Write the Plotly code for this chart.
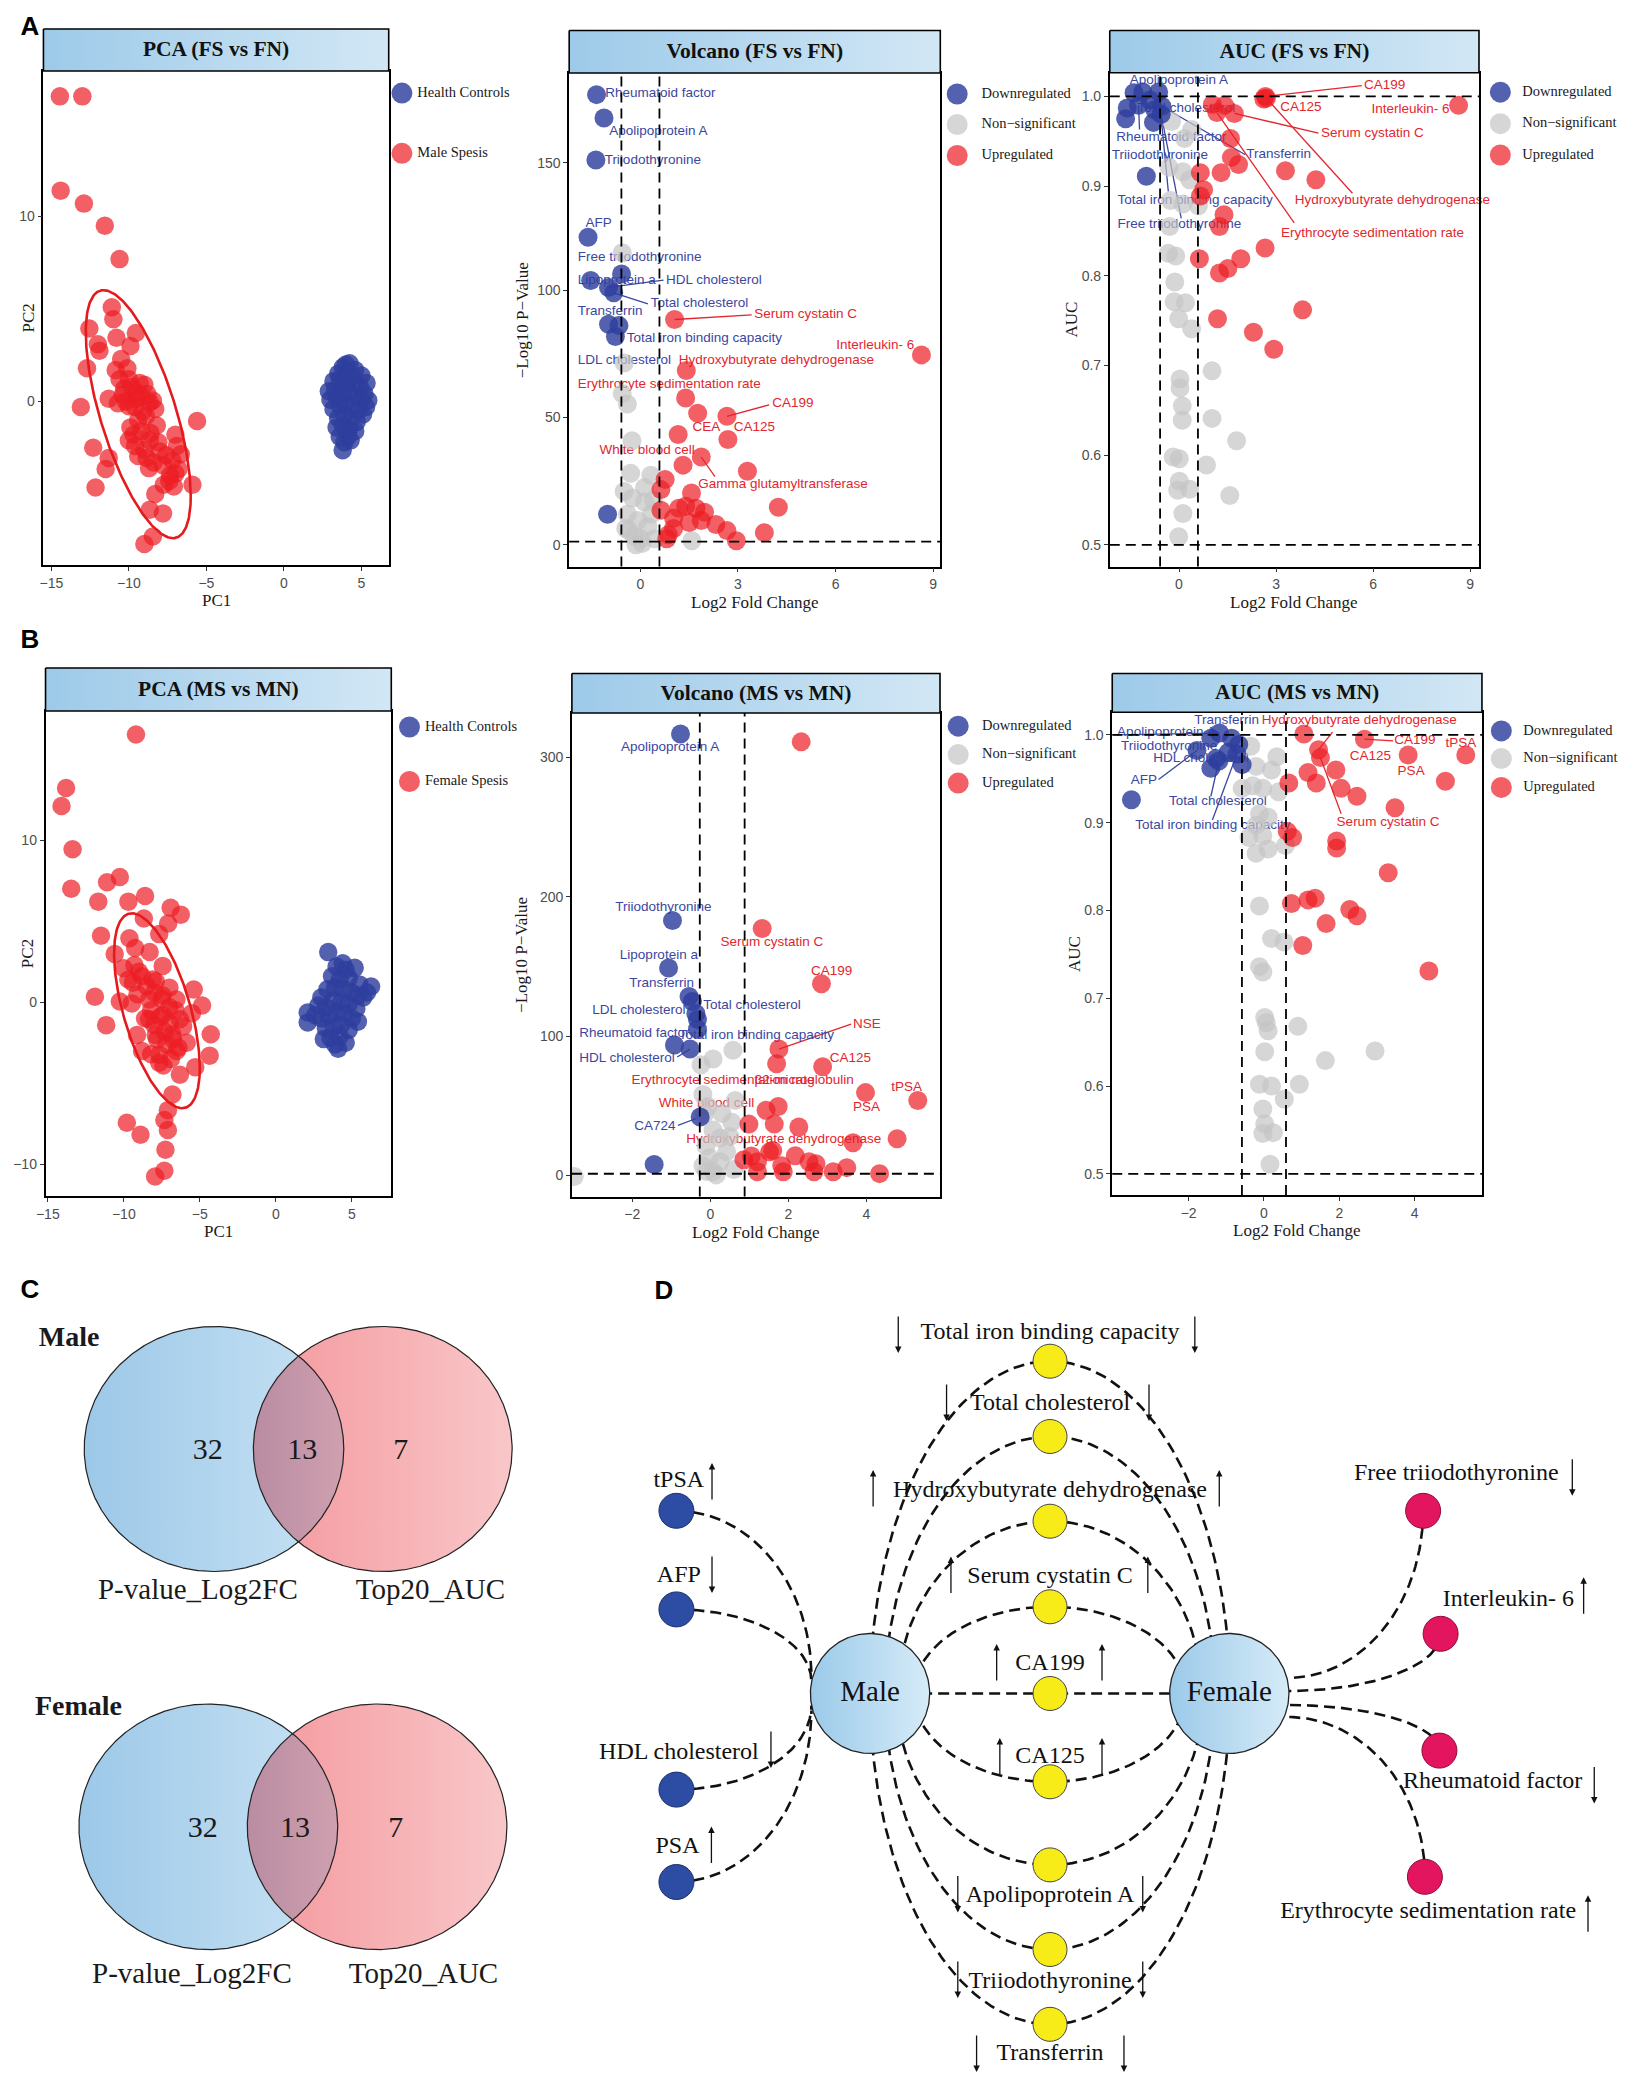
import numpy as np
import plotly.graph_objects as go

W, H = 1629, 2074
OFFX, OFFY = 13, 8  # page offset of the plot inside the html body
SERIF = "Liberation Serif"
SANS = "Liberation Sans"

C_DOWN = "rgba(46,62,158,0.82)"
C_UP = "rgba(236,28,36,0.70)"
C_NS = "rgba(196,196,196,0.70)"
T_DOWN = "#3A479F"
T_UP = "#E3262E"

# ===================== DATA =====================
# ---- PCA (FS vs FN) ----
pca_fs_sepsis_x = [-14.45,-13.0,-14.4,-12.9,-11.55,-10.6,-11.1,-11.0,-12.55,-9.55,
                   -10.8,-9.9,-12.0,-11.9,-12.7,-10.85,-10.6,-10.0,-9.0,-11.3,
                   -10.4,-9.55,-8.65,-8.45,-13.1,-10.0,-9.1,-8.2,-9.9,-5.6,
                   -10.0,-8.65,-7.0,-12.3,-6.9,-9.4,-8.85,-11.3,-6.65,-7.8,
                   -7.35,-6.8,-11.5,-5.9,-12.15,-7.75,-8.3,-8.65,-7.8,-8.45,
                   -9.0,-9.5,-9.8,-9.2,-10.2,-8.9,-9.4,-8.6,-9.7,-8.0,
                   -7.2,-7.6,-8.4,-9.0,-7.0,-7.4,-9.3,-10.3,-8.8,-9.6,
                   -10.7,-8.3,-9.2,-8.1,-9.6,-8.7,-7.1,-10.5,-10.1]
pca_fs_sepsis_y = [16.5,16.5,11.4,10.7,9.5,7.7,5.1,4.45,3.95,3.7,
                   3.45,3.0,3.1,2.75,1.8,1.7,1.2,1.2,0.9,0.15,
                   0.35,0.15,-0.05,0.05,-0.3,-0.25,-0.55,-1.3,-1.4,-1.05,
                   -2.1,-2.1,-1.8,-2.5,-2.4,-2.95,-3.05,-3.05,-2.85,-3.45,
                   -4.0,-3.65,-3.65,-4.5,-4.65,-4.5,-5.0,-5.85,-6.05,-7.3,
                   -7.7,0.5,0.8,0.3,0.0,-0.8,-1.0,-1.7,-1.8,-2.7,
                   -3.2,-2.9,-3.3,-2.6,-3.9,-4.3,1.0,0.7,0.4,-0.3,
                   -0.1,-0.4,-1.6,-2.2,-2.4,-3.6,-4.6,2.3,1.8]
pca_fs_hc_x = [4.23,3.8,3.5,4.0,4.6,5.0,5.33,3.2,2.9,3.3,3.7,4.1,4.5,4.9,5.44,5.2,3.0,3.4,3.8,4.2,
               4.6,5.0,5.3,3.2,3.6,4.0,4.4,4.8,5.1,3.5,3.9,4.3,4.7,3.4,3.8,4.2,4.6,3.6,4.12,3.9,
               4.3,3.79,4.0,4.4,3.6]
pca_fs_hc_y = [2.07,1.85,1.5,1.6,1.7,1.4,1.0,1.1,0.55,0.6,0.9,1.1,1.0,0.8,0.06,0.4,0.1,0.2,0.4,0.5,
               0.3,0.1,-0.3,-0.4,-0.2,-0.1,-0.3,-0.5,-0.7,-0.9,-0.7,-0.9,-1.1,-1.4,-1.3,-1.5,-1.6,-1.9,-1.9,-2.2,
               -2.1,-2.63,2.0,1.4,1.2]
# ellipse of the sepsis group: centre x, centre y, var x, var y, cov xy
pca_fs_ellipse = [-9.395, -0.685, 11.46, 44.96, -14.99]

# ---- PCA (MS vs MN) ----
pca_ms_sepsis_x = [-9.2,-13.8,-14.1,-13.37,-13.46,-10.26,-11.1,-11.68,-9.7,-8.6,
                   -6.92,-6.25,-8.68,-7.08,-11.5,-7.67,-9.63,-9.25,-10.6,-8.3,
                   -7.44,-10.0,-9.0,-9.7,-8.1,-7.0,-5.4,-11.9,-10.26,-9.47,
                   -8.34,-7.44,-6.54,-4.85,-5.52,-11.16,-8.34,-7.44,-6.31,-4.28,
                   -9.13,-7.9,-6.76,-5.86,-8.8,-7.67,-6.54,-4.35,-5.3,-6.31,
                   -7.67,-6.8,-7.1,-9.8,-7.33,-8.9,-7.1,-7.26,-7.33,-7.94,
                   -8.5,-8.0,-7.5,-7.0,-8.2,-7.6,-7.0,-8.0,-7.3,-6.8,
                   -7.8,-6.4,-7.2,-8.6,-9.1,-8.8,-9.4,-6.1,-6.6,-7.9,
                   -9.3,-6.9,-7.4,-8.2]
pca_ms_sepsis_y = [16.5,13.2,12.1,9.43,7.0,7.72,7.4,6.2,6.2,6.55,
                   5.82,5.4,5.16,4.85,4.1,4.2,3.95,3.34,2.97,3.1,
                   2.24,2.1,1.88,1.4,1.4,0.9,0.78,0.34,0.05,-0.07,
                   0.17,0.41,0.17,-0.2,-0.68,-1.41,-1.05,-0.8,-1.05,-1.97,
                   -2.02,-2.02,-2.27,-2.5,-3.0,-3.24,-3.0,-3.29,-4.0,-4.46,
                   -3.73,-5.68,-6.65,-7.43,-7.26,-8.16,-7.87,-9.09,-10.38,-10.74,
                   1.0,0.6,0.2,-0.3,-0.5,-0.9,-1.3,-1.4,-1.8,-2.0,
                   -2.3,-2.8,-2.6,-1.0,0.5,1.6,1.2,-1.5,-0.5,1.3,
                   2.3,-3.5,-3.9,-3.2]
pca_ms_hc_x = [3.45,2.1,2.1,6.27,4.1,3.16,5.75,5.19,
               4.0,4.6,3.7,4.2,4.8,5.5,3.0,3.4,3.9,4.5,5.0,5.4,2.8,3.3,3.8,4.3,4.8,5.3,
               3.0,3.5,4.0,4.5,5.0,5.4,3.3,3.8,4.3,4.8,3.6,4.2,4.6,3.9,2.6,4.4,6.0]
pca_ms_hc_y = [3.09,-0.63,-1.24,0.97,-2.87,-2.27,0.29,2.12,
               2.2,2.0,1.6,1.4,1.5,1.1,0.3,0.8,0.9,0.8,0.6,0.4,-0.2,-0.3,0.1,0.0,-0.1,-0.4,
               -1.0,-0.8,-0.6,-0.7,-1.0,-1.2,-1.6,-1.5,-1.4,-1.7,-2.2,-2.1,-2.5,-2.6,-0.8,2.4,0.6]
pca_ms_ellipse = [-7.82, -0.525, 7.95, 36.06, -9.91]

# ---- Volcano (FS vs FN) ----
vol_fs_down_x = [-1.35,-1.12,-1.37,-1.61,-1.53,-0.58,-0.98,-0.82,-0.98,-0.66,-0.77,-1.01]
vol_fs_down_y = [176.8,167.6,151.1,120.8,103.8,106.4,101.1,99.0,86.6,86.1,81.8,12.0]
vol_fs_down_names = ["Rheumatoid factor","Apolipoprotein A","Triiodothyronine","AFP","Lipoprotein a",
                     "Free triiodothyronine","HDL cholesterol","Total cholesterol","Transferrin",
                     "LDL cholesterol","Total iron binding capacity",""]
vol_fs_ns_x = [-0.56,-0.5,-0.56,-0.4,-0.26,-0.3,0.32,-0.24,0.13,-0.4,-0.08,0.23,-0.35,0.02,0.44,-0.14,
               1.58,-0.45,0.34,0.13,0.05,-0.2,0.4,-0.5]
vol_fs_ns_y = [114.7,71.4,59.4,55.3,40.9,28.1,27.3,18.4,16.8,12.0,9.6,7.2,5.6,2.4,2.4,0.0,
               1.6,6.4,12.0,22.5,0.5,3.5,17.5,21.0]
vol_fs_up_x = [1.05,8.64,1.41,1.39,1.76,2.66,2.69,1.16,1.87,1.31,
               3.29,0.76,0.63,1.57,4.24,0.63,1.18,1.39,1.71,1.97,
               1.02,1.5,1.87,2.32,2.66,1.02,0.86,3.81,2.95,0.81]
vol_fs_up_y = [88.5,74.6,68.5,57.7,51.7,50.5,41.4,43.3,34.5,31.3,
               28.9,25.7,21.7,20.4,14.8,13.6,14.4,15.2,14.4,12.8,
               10.4,8.8,9.6,8.0,5.6,6.4,4.0,4.8,1.6,2.4]
vol_fs_up_names = ["Serum cystatin C","Interleukin- 6","Hydroxybutyrate dehydrogenase",
                   "Erythrocyte sedimentation rate","CEA","CA199","CA125","White blood cell",
                   "Gamma glutamyltransferase"] + [""] * 21

# ---- AUC (FS vs FN) ----
auc_fs_down_x = [-1.39,-1.12,-0.63,-1.6,-1.65,-0.79,-1.01,-0.53,-0.9,-1.25,-0.75,-0.55]
auc_fs_down_y = [1.004,1.005,1.005,0.987,0.975,0.971,0.911,0.989,0.996,0.99,0.985,0.98]
auc_fs_down_names = ["","Apolipoprotein A","Total iron binding capacity","","Triiodothyronine","","",
                     "Transferrin","Total cholesterol","Rheumatoid factor","","Free triiodothyronine"]
auc_fs_ns_x = [-0.23,0.39,0.17,-0.31,0.12,0.33,-0.26,0.12,0.6,-0.29,
               -0.33,-0.1,-0.13,-0.15,0.2,-0.01,0.39,1.02,0.03,0.03,
               0.1,0.1,1.02,1.78,-0.18,0.01,0.85,0.01,-0.04,0.33,
               1.57,0.12,-0.01]
auc_fs_ns_y = [0.972,0.963,0.953,0.921,0.916,0.907,0.884,0.88,0.878,0.855,
               0.825,0.822,0.793,0.771,0.77,0.752,0.741,0.694,0.685,0.675,
               0.655,0.639,0.641,0.616,0.598,0.596,0.589,0.571,0.561,0.562,
               0.555,0.535,0.509]
auc_fs_up_x = [2.67,2.7,1.03,1.41,1.17,1.71,8.64,1.59,1.62,1.84,
               1.3,0.66,3.29,4.23,0.76,0.66,1.39,1.25,2.66,0.63,
               1.91,1.25,1.51,1.19,3.82,2.3,2.93,2.62]
auc_fs_up_y = [1.0,0.998,0.991,0.99,0.982,0.981,0.99,0.953,0.932,0.924,
               0.915,0.915,0.917,0.907,0.896,0.889,0.868,0.855,0.831,0.819,
               0.819,0.803,0.808,0.752,0.762,0.737,0.718,0.997]
auc_fs_up_names = ["CA199","Hydroxybutyrate dehydrogenase","","","Erythrocyte sedimentation rate",
                   "Serum cystatin C","Interleukin- 6"] + [""] * 20 + ["CA125"]

# ---- Volcano (MS vs MN) ----
vol_ms_down_x = [-0.765,-0.97,-1.07,-0.545,-0.46,-0.37,-0.33,-0.33,-0.92,-0.52,-0.26,-1.44]
vol_ms_down_y = [316.7,182.9,148.9,128.4,124.8,116.2,112.0,104.9,93.6,90.7,42.0,7.9]
vol_ms_down_names = ["Apolipoprotein A","Triiodothyronine","Lipoprotein a","Transferrin","Total cholesterol",
                     "LDL cholesterol","","Total iron binding capacity","Rheumatoid factor",
                     "HDL cholesterol","CA724",""]
vol_ms_ns_x = [-3.49,0.58,0.07,-0.24,-0.19,0.64,-0.06,0.55,0.07,0.25,
               -0.11,0.42,-0.19,0.07,0.6,0.25,-0.02,-0.15,0.3,0.5,-0.1,0.15]
vol_ms_ns_y = [-0.6,89.9,83.6,79.4,58.1,53.9,49.6,38.3,32.6,26.9,
               21.3,17.0,7.1,2.8,4.3,9.9,12.8,44.0,44.5,28.0,3.0,0.5]
vol_ms_up_x = [2.33,1.33,2.85,1.76,1.7,2.88,3.98,5.32,1.74,1.43,
               0.99,1.64,2.27,4.79,3.66,0.86,1.21,1.52,1.83,2.18,
               2.53,2.71,3.15,3.5,4.34,1.87,2.66,1.21,1.05,1.6]
vol_ms_up_y = [311.0,177.2,137.5,90.7,80.2,78.0,59.5,53.9,49.6,46.8,
               36.9,36.9,34.9,26.4,23.5,11.3,9.9,17.0,7.1,14.2,
               9.9,8.5,2.8,5.7,1.4,2.8,2.8,2.8,14.0,18.0]
vol_ms_up_names = ["","Serum cystatin C","CA199","NSE","","CA125","PSA","tPSA",
                   "β2-microglobulin","White blood cell"] + [""] * 20

# ---- AUC (MS vs MN) ----
auc_ms_down_x = [-3.52,-1.78,-1.41,-1.27,-1.18,-1.41,-0.86,-0.67,-0.72,-0.95,-0.58,-1.2]
auc_ms_down_y = [0.926,0.982,0.962,0.973,1.002,0.996,0.996,0.989,0.978,0.98,0.966,0.97]
auc_ms_down_names = ["","AFP","","HDL cholesterol","Apolipoprotein A","Triiodothyronine","Transferrin","",
                     "Total iron binding capacity","","","Total cholesterol"]
auc_ms_ns_x = [-0.35,-0.21,0.34,0.2,-0.58,-0.3,-0.03,0.39,-0.12,0.11,
               -0.21,-0.4,-0.03,0.57,-0.21,0.11,-0.12,0.2,0.53,-0.12,
               -0.03,0.02,0.06,0.11,0.9,0.02,2.95,1.63,-0.12,0.2,
               0.94,0.54,-0.03,0.02,0.25,-0.03,0.16]
auc_ms_ns_y = [0.987,0.964,0.975,0.96,0.939,0.942,0.939,0.935,0.91,0.906,
               0.897,0.883,0.885,0.874,0.865,0.87,0.805,0.768,0.764,0.736,
               0.73,0.678,0.672,0.663,0.668,0.639,0.64,0.629,0.602,0.6,
               0.602,0.585,0.574,0.557,0.547,0.546,0.511]
auc_ms_up_x = [1.06,2.67,1.45,1.5,3.83,5.36,1.91,1.17,0.66,1.39,
               2.05,2.47,4.82,3.48,0.62,0.76,1.93,1.93,3.3,0.73,
               1.17,1.36,2.28,2.47,1.65,1.03,4.38]
auc_ms_up_y = [1.001,0.995,0.983,0.974,0.977,0.977,0.96,0.957,0.945,0.945,
               0.939,0.93,0.947,0.917,0.89,0.883,0.879,0.871,0.843,0.808,
               0.812,0.814,0.801,0.794,0.785,0.76,0.731]
auc_ms_up_names = ["","CA199","Hydroxybutyrate dehydrogenase","Serum cystatin C","PSA","tPSA","CA125"] + [""] * 20

# thresholds
fc_cut_fs = [-0.585, 0.585]
fc_cut_ms_volcano = [-0.27, 0.88]
fc_cut_ms_auc = [-0.585, 0.585]
p_cut = 1.3
auc_cuts = [0.5, 1.0]

# ---- Venn ----
venn_sets = ["P-value_Log2FC", "Top20_AUC"]
venn_male_counts = [32, 13, 7]
venn_female_counts = [32, 13, 7]

# ---- Network ----
net_shared = ["Total iron binding capacity", "Total cholesterol", "Hydroxybutyrate dehydrogenase",
              "Serum cystatin C", "CA199", "CA125", "Apolipoprotein A", "Triiodothyronine", "Transferrin"]
net_shared_dir = ["down", "down", "up", "up", "up", "up", "down", "down", "down"]
net_male_only = ["tPSA", "AFP", "HDL cholesterol", "PSA"]
net_male_dir = ["up", "down", "down", "up"]
net_female_only = ["Free triiodothyronine", "Interleukin- 6", "Rheumatoid factor", "Erythrocyte sedimentation rate"]
net_female_dir = ["down", "up", "down", "up"]

# ===================== FIGURE =====================
fig = go.Figure()
annotations = []
shapes = []
layout = dict(width=W, height=H, margin=dict(l=0, r=0, t=0, b=0), paper_bgcolor="white",
              plot_bgcolor="rgba(0,0,0,0)", showlegend=False)

def sfx(i):
    return "" if i == 1 else str(i)

def fmt_tick(v, dec=0):
    s = f"{abs(v):.{dec}f}"
    return ("\u2212" + s) if v < 0 else s

AX = dict(showline=True, mirror=True, linecolor="black", linewidth=1.6, ticks="outside", ticklen=4,
          tickwidth=1, tickcolor="#333333", showgrid=False, zeroline=False, fixedrange=True,
          tickfont=dict(family=SANS, size=14, color="#4D4D4D"))

# overlay axis expressed in page pixels
layout["xaxis7"] = dict(domain=[0, 1], range=[OFFX, W + OFFX], visible=False, anchor="y7", fixedrange=True)
layout["yaxis7"] = dict(domain=[0, 1], range=[H + OFFY, OFFY], visible=False, anchor="x7", fixedrange=True)

def ov(**kw):
    kw.setdefault("xaxis", "x7")
    kw.setdefault("yaxis", "y7")
    kw.setdefault("hoverinfo", "skip")
    return go.Scatter(**kw)

def fx(px):
    return (px - OFFX) / W

def fy(py):
    return 1 - (py - OFFY) / H

panels = [
    dict(i=1, box=(38.6, 386, 29, 71, 565), xr=[-15.51, 6.76], yr=[-8.84, 17.87],
         xt=[-15, -10, -5, 0, 5], yt=[0, 10], ydec=0, title="PCA (FS vs FN)", xlab="PC1", ylab="PC2", yoff=16),
    dict(i=2, box=(567.6, 941, 30.5, 73, 566.5), xr=[-2.19, 9.22], yr=[-8.5, 185.3],
         xt=[0, 3, 6, 9], yt=[0, 50, 100, 150], ydec=0, title="Volcano (FS vs FN)", xlab="Log2 Fold Change",
         ylab="\u2212Log10 P\u2212Value", yoff=47),
    dict(i=3, box=(1111.5, 1483, 30.5, 72.7, 566.5), xr=[-2.14, 9.27], yr=[0.4759, 1.0264],
         xt=[0, 3, 6, 9], yt=[0.5, 0.6, 0.7, 0.8, 0.9, 1.0], ydec=1, title="AUC (FS vs FN)",
         xlab="Log2 Fold Change", ylab="AUC", yoff=38),
    dict(i=4, box=(40.7, 388.6, 668, 711, 1196), xr=[-15.15, 7.6], yr=[-11.94, 17.95],
         xt=[-15, -10, -5, 0, 5], yt=[-10, 0, 10], ydec=0, title="PCA (MS vs MN)", xlab="PC1", ylab="PC2", yoff=18),
    dict(i=5, box=(570.3, 940.7, 673.5, 713, 1196.5), xr=[-3.55, 5.89], yr=[-15, 331.7],
         xt=[-2, 0, 2, 4], yt=[0, 100, 200, 300], ydec=0, title="Volcano (MS vs MN)", xlab="Log2 Fold Change",
         ylab="\u2212Log10 P\u2212Value", yoff=50),
    dict(i=6, box=(1114, 1486, 673.5, 712.3, 1195), xr=[-4.03, 5.79], yr=[0.476, 1.0256],
         xt=[-2, 0, 2, 4], yt=[0.5, 0.6, 0.7, 0.8, 0.9, 1.0], ydec=1, title="AUC (MS vs MN)",
         xlab="Log2 Fold Change", ylab="AUC", yoff=38),
]

strip_x, strip_y = [], []
for p in panels:
    s = sfx(p["i"])
    l, r, st, pt, pb = p["box"]
    layout["xaxis" + s] = dict(domain=[fx(l), fx(r)], range=p["xr"], anchor="y" + s, tickvals=p["xt"],
                               ticktext=[fmt_tick(v) for v in p["xt"]], **AX)
    layout["yaxis" + s] = dict(domain=[fy(pb), fy(pt)], range=p["yr"], anchor="x" + s, tickvals=p["yt"],
                               ticktext=[fmt_tick(v, p["ydec"]) for v in p["yt"]], **AX)
    fig.add_trace(ov(x=[l, r, r, l, l], y=[st, st, pt, pt, st], mode="lines", fill="toself",
                     fillgradient=dict(type="horizontal", colorscale=[[0, "#9DCAE9"], [1, "#D2E7F5"]]),
                     line=dict(color="black", width=1.6)))
    strip_x.append((l + r) / 2)
    strip_y.append((st + pt) / 2 + 1)
    annotations.append(dict(x=(l + r) / 2, y=pb + 35.5, xref="x7", yref="y7", text=p["xlab"], showarrow=False,
                            font=dict(family=SERIF, size=17, color="#1A1A1A")))
    annotations.append(dict(x=l - p["yoff"], y=(pt + pb) / 2, xref="x7", yref="y7", text=p["ylab"],
                            showarrow=False, textangle=-90, font=dict(family=SERIF, size=17, color="#1A1A1A")))

fig.add_trace(ov(x=strip_x, y=strip_y, mode="text", text=[p["title"] for p in panels],
                 textfont=dict(family=SERIF, size=21.5, color="#111111", weight="bold")))

# ---------- PCA panels ----------
def cov_ellipse(par, n=240):
    cx, cy, sxx, syy, sxy = par
    L = np.linalg.cholesky(np.array([[sxx, sxy], [sxy, syy]]))
    t = np.linspace(0, 2 * np.pi, n)
    v = L @ np.vstack([np.cos(t), np.sin(t)])
    return cx + v[0], cy + v[1]

for i, hx, hy, sx, sy, el in [(1, pca_fs_hc_x, pca_fs_hc_y, pca_fs_sepsis_x, pca_fs_sepsis_y, pca_fs_ellipse),
                              (4, pca_ms_hc_x, pca_ms_hc_y, pca_ms_sepsis_x, pca_ms_sepsis_y, pca_ms_ellipse)]:
    s = sfx(i)
    fig.add_trace(go.Scatter(x=hx, y=hy, mode="markers", xaxis="x" + s, yaxis="y" + s,
                             marker=dict(size=18.5, color=C_DOWN, line=dict(width=0))))
    fig.add_trace(go.Scatter(x=sx, y=sy, mode="markers", xaxis="x" + s, yaxis="y" + s,
                             marker=dict(size=18.5, color=C_UP, line=dict(width=0))))
    ex, ey = cov_ellipse(el)
    fig.add_trace(go.Scatter(x=ex, y=ey, mode="lines", xaxis="x" + s, yaxis="y" + s,
                             line=dict(color="#E41A1C", width=2.6)))

# ---------- Volcano / AUC panels ----------
# label specs: (name, group, x, y, anchor, segment start or None)
lab_vol_fs = [
    ("Rheumatoid factor", "d", -1.085, 177.2, "l", None),
    ("Apolipoprotein A", "d", -0.96, 162.3, "l", None),
    ("Triiodothyronine", "d", -1.1, 150.8, "l", None),
    ("AFP", "d", -1.69, 126.2, "l", None),
    ("Free triiodothyronine", "d", -1.93, 112.8, "l", None),
    ("Lipoprotein a", "d", -1.93, 103.8, "l", None),
    ("HDL cholesterol", "d", 0.79, 103.8, "l", (0.71, 104.0)),
    ("Total cholesterol", "d", 0.32, 94.6, "l", (0.23, 94.6)),
    ("Transferrin", "d", -1.93, 91.4, "l", None),
    ("Total iron binding capacity", "d", -0.42, 81.0, "l", None),
    ("LDL cholesterol", "d", -1.93, 72.2, "l", None),
    ("Serum cystatin C", "u", 3.5, 90.3, "l", (3.42, 90.3)),
    ("Interleukin- 6", "u", 8.42, 78.3, "r", None),
    ("Hydroxybutyrate dehydrogenase", "u", 1.18, 72.2, "l", None),
    ("Erythrocyte sedimentation rate", "u", -1.93, 63.0, "l", None),
    ("CA199", "u", 4.05, 55.3, "l", (3.96, 55.0)),
    ("CEA", "u", 1.6, 46.2, "l", None),
    ("CA125", "u", 2.87, 46.2, "l", None),
    ("White blood cell", "u", -1.26, 37.2, "l", None),
    ("Gamma glutamyltransferase", "u", 1.78, 23.6, "l", (2.29, 26.8)),
]
lab_auc_fs = [
    ("Apolipoprotein A", "d", -1.525, 1.0177, "l", None),
    ("Total cholesterol", "d", -1.28, 0.986, "l", None),
    ("Rheumatoid factor", "d", -1.94, 0.954, "l", (-1.22, 0.963)),
    ("Triiodothyronine", "d", -2.08, 0.934, "l", None),
    ("Transferrin", "d", 2.08, 0.935, "l", (2.05, 0.935)),
    ("Total iron binding capacity", "d", -1.9, 0.884, "l", (-0.33, 0.894)),
    ("Free triiodothyronine", "d", -1.9, 0.857, "l", (0.07, 0.864)),
    ("CA199", "u", 5.72, 1.012, "l", (5.65, 1.012)),
    ("CA125", "u", 3.13, 0.987, "l", None),
    ("Interleukin- 6", "u", 5.95, 0.985, "l", None),
    ("Serum cystatin C", "u", 4.39, 0.959, "l", (4.31, 0.959)),
    ("Hydroxybutyrate dehydrogenase", "u", 3.58, 0.884, "l", (5.36, 0.892)),
    ("Erythrocyte sedimentation rate", "u", 3.15, 0.847, "l", (3.56, 0.859)),
]
lab_vol_ms = [
    ("Apolipoprotein A", "d", -2.29, 307, "l", None),
    ("Triiodothyronine", "d", -2.44, 192, "l", None),
    ("Lipoprotein a", "d", -2.32, 157.4, "l", None),
    ("Transferrin", "d", -2.08, 137.5, "l", None),
    ("Total cholesterol", "d", -0.18, 121.9, "l", None),
    ("LDL cholesterol", "d", -3.03, 118.2, "l", None),
    ("Total iron binding capacity", "d", -0.81, 100.1, "l", None),
    ("Rheumatoid factor", "d", -3.36, 102.1, "l", None),
    ("HDL cholesterol", "d", -3.36, 83.6, "l", (-0.85, 85.0)),
    ("CA724", "d", -1.95, 35.4, "l", (-0.83, 36.0)),
    ("Serum cystatin C", "u", 0.26, 167.3, "l", None),
    ("CA199", "u", 2.58, 146.6, "l", None),
    ("NSE", "u", 3.66, 108.6, "l", (3.61, 108.6)),
    ("CA125", "u", 3.06, 84.2, "l", None),
    ("Erythrocyte sedimentation rate", "u", -2.02, 68.0, "l", None),
    ("β2-microglobulin", "u", 1.13, 68.0, "l", None),
    ("tPSA", "u", 4.64, 62.9, "l", None),
    ("White blood cell", "u", -1.32, 51.9, "l", None),
    ("PSA", "u", 3.66, 48.8, "l", None),
    ("Hydroxybutyrate dehydrogenase", "u", -0.62, 25.5, "l", None),
]
lab_auc_ms = [
    ("Apolipoprotein A", "d", -3.9, 1.002, "l", (-4.0, 1.0)),
    ("Transferrin", "d", -1.85, 1.0157, "l", None),
    ("Triiodothyronine", "d", -3.8, 0.9865, "l", None),
    ("HDL cholesterol", "d", -2.94, 0.973, "l", None),
    ("AFP", "d", -3.54, 0.948, "l", (-2.8, 0.949)),
    ("Total cholesterol", "d", -2.52, 0.924, "l", (-1.41, 0.930)),
    ("Total iron binding capacity", "d", -3.42, 0.897, "l", (-1.37, 0.903)),
    ("Hydroxybutyrate dehydrogenase", "u", -0.06, 1.0157, "l", (1.82, 1.003)),
    ("CA199", "u", 3.46, 0.993, "l", (3.43, 0.993)),
    ("tPSA", "u", 4.82, 0.99, "l", None),
    ("CA125", "u", 2.28, 0.975, "l", None),
    ("PSA", "u", 3.55, 0.958, "l", None),
    ("Serum cystatin C", "u", 1.93, 0.90, "l", (2.05, 0.910)),
]

scatter_panels = [
    (2, (vol_fs_down_x, vol_fs_down_y, vol_fs_down_names), (vol_fs_ns_x, vol_fs_ns_y),
     (vol_fs_up_x, vol_fs_up_y, vol_fs_up_names), lab_vol_fs, fc_cut_fs, [p_cut]),
    (3, (auc_fs_down_x, auc_fs_down_y, auc_fs_down_names), (auc_fs_ns_x, auc_fs_ns_y),
     (auc_fs_up_x, auc_fs_up_y, auc_fs_up_names), lab_auc_fs, fc_cut_fs, auc_cuts),
    (5, (vol_ms_down_x, vol_ms_down_y, vol_ms_down_names), (vol_ms_ns_x, vol_ms_ns_y),
     (vol_ms_up_x, vol_ms_up_y, vol_ms_up_names), lab_vol_ms, fc_cut_ms_volcano, [p_cut]),
    (6, (auc_ms_down_x, auc_ms_down_y, auc_ms_down_names), (auc_ms_ns_x, auc_ms_ns_y),
     (auc_ms_up_x, auc_ms_up_y, auc_ms_up_names), lab_auc_ms, fc_cut_ms_auc, auc_cuts),
]

DASH = "10px,6px"
for i, down, ns, up, labels, vcuts, hcuts in scatter_panels:
    s = sfx(i)
    xa, ya = "x" + s, "y" + s
    groups = {"d": down, "u": up}
    tcol = {"d": T_DOWN, "u": T_UP}
    for g in ("d", "u"):
        sx, sy = [], []
        gx, gy, gn = groups[g]
        for name, grp, lx, ly, anc, seg in labels:
            if grp != g or seg is None or name not in gn:
                continue
            k = gn.index(name)
            sx += [seg[0], gx[k], None]
            sy += [seg[1], gy[k], None]
        if sx:
            fig.add_trace(go.Scatter(x=sx, y=sy, mode="lines", xaxis=xa, yaxis=ya, hoverinfo="skip",
                                     line=dict(color=tcol[g], width=1.3)))
    for g in ("d", "u"):
        for anc, pos in (("l", "middle right"), ("r", "middle left")):
            sel = [lb for lb in labels if lb[1] == g and lb[4] == anc]
            if not sel:
                continue
            fig.add_trace(go.Scatter(x=[lb[2] for lb in sel], y=[lb[3] for lb in sel], text=[lb[0] for lb in sel],
                                     mode="text", textposition=pos, xaxis=xa, yaxis=ya, cliponaxis=False,
                                     hoverinfo="skip", textfont=dict(family=SANS, size=13.5, color=tcol[g])))
    fig.add_trace(go.Scatter(x=ns[0], y=ns[1], mode="markers", xaxis=xa, yaxis=ya,
                             marker=dict(size=19, color=C_NS, line=dict(width=0))))
    fig.add_trace(go.Scatter(x=down[0], y=down[1], mode="markers", xaxis=xa, yaxis=ya,
                             marker=dict(size=19, color=C_DOWN, line=dict(width=0))))
    fig.add_trace(go.Scatter(x=up[0], y=up[1], mode="markers", xaxis=xa, yaxis=ya,
                             marker=dict(size=19, color=C_UP, line=dict(width=0))))
    for v in vcuts:
        shapes.append(dict(type="line", xref=xa, yref=ya + " domain", x0=v, x1=v, y0=0, y1=1,
                           line=dict(color="black", width=1.8, dash=DASH)))
    for h in hcuts:
        shapes.append(dict(type="line", xref=xa + " domain", yref=ya, x0=0, x1=1, y0=h, y1=h,
                           line=dict(color="black", width=1.8, dash=DASH)))

# ---------- legends ----------
leg_specs = [
    (399.3, 414.8, [93.1, 153.3], ["Health Controls", "Male Spesis"], [C_DOWN, C_UP]),
    (958.0, 982.4, [94.0, 124.5, 155.5], ["Downregulated", "Non\u2212significant", "Upregulated"], [C_DOWN, C_NS, C_UP]),
    (1504.5, 1526.5, [92.2, 123.7, 155.0], ["Downregulated", "Non\u2212significant", "Upregulated"], [C_DOWN, C_NS, C_UP]),
    (406.9, 422.4, [727.0, 781.5], ["Health Controls", "Female Spesis"], [C_DOWN, C_UP]),
    (959.0, 983.0, [726.2, 754.6, 783.1], ["Downregulated", "Non\u2212significant", "Upregulated"], [C_DOWN, C_NS, C_UP]),
    (1505.5, 1527.5, [730.9, 758.6, 787.4], ["Downregulated", "Non\u2212significant", "Upregulated"], [C_DOWN, C_NS, C_UP]),
]
lt_x, lt_y, lt_t = [], [], []
for mx, tx, ys, labs, cols in leg_specs:
    fig.add_trace(ov(x=[mx] * len(ys), y=ys, mode="markers", marker=dict(size=21, color=cols, line=dict(width=0))))
    lt_x += [tx] * len(ys)
    lt_y += ys
    lt_t += labs
fig.add_trace(ov(x=lt_x, y=lt_y, text=lt_t, mode="text", textposition="middle right",
                 textfont=dict(family=SERIF, size=14.5, color="#1A1A1A")))

# ---------- Panel C : Venn ----------
def ell_pts(cx, cy, rx, ry, n=720):
    t = np.linspace(0, 2 * np.pi, n)
    return cx + rx * np.cos(t), cy + ry * np.sin(t)

def lens(e1, e2):
    x1, y1 = ell_pts(*e1)
    x2, y2 = ell_pts(*e2)
    in2 = ((x1 - e2[0]) / e2[2]) ** 2 + ((y1 - e2[1]) / e2[3]) ** 2 <= 1
    in1 = ((x2 - e1[0]) / e1[2]) ** 2 + ((y2 - e1[1]) / e1[3]) ** 2 <= 1
    xs = np.concatenate([x1[in2], x2[in1]])
    ys = np.concatenate([y1[in2], y2[in1]])
    mx, my = xs.mean(), ys.mean()
    o = np.argsort(np.arctan2(ys - my, xs - mx))
    xs, ys = xs[o], ys[o]
    return np.append(xs, xs[0]), np.append(ys, ys[0])

venns = [
    dict(blue=(210.2, 1449.0, 130.6, 122.5), red=(380.0, 1449.0, 130.2, 122.5), counts=venn_male_counts,
         num_pos=[(204, 1451), (299, 1451), (398, 1451)], set_pos=[(194, 1592), (428, 1592)],
         title="Male", title_pos=(34, 1339)),
    dict(blue=(204.5, 1826.8, 130.2, 122.8), red=(374.3, 1826.8, 130.6, 122.8), counts=venn_female_counts,
         num_pos=[(199, 1829), (291.8, 1829), (393, 1829)], set_pos=[(188, 1975.5), (421, 1975.5)],
         title="Female", title_pos=(30, 1707.6)),
]
vn_x, vn_y, vn_t, vs_x, vs_y, vs_t, vt_x, vt_y, vt_t = [], [], [], [], [], [], [], [], []
for v in venns:
    bx, by = ell_pts(*v["blue"])
    rx_, ry_ = ell_pts(*v["red"])
    fig.add_trace(ov(x=bx, y=by, mode="lines", fill="toself", line=dict(width=0, color="rgba(0,0,0,0)"),
                     fillgradient=dict(type="horizontal", colorscale=[[0, "#9CC8E8"], [1, "#C9E3F4"]])))
    fig.add_trace(ov(x=rx_, y=ry_, mode="lines", fill="toself", line=dict(width=0, color="rgba(0,0,0,0)"),
                     fillgradient=dict(type="horizontal", colorscale=[[0, "#F4979C"], [1, "#F9C7C9"]])))
    lx, ly = lens(v["blue"], v["red"])
    fig.add_trace(ov(x=lx, y=ly, mode="lines", fill="toself", line=dict(width=0, color="rgba(0,0,0,0)"),
                     fillgradient=dict(type="horizontal", colorscale=[[0, "#B98CA2"], [1, "#CFA0AF"]])))
    fig.add_trace(ov(x=np.concatenate([bx, [None], rx_]), y=np.concatenate([by, [None], ry_]), mode="lines",
                     line=dict(color="#222222", width=1.2)))
    for (px_, py_), c in zip(v["num_pos"], v["counts"]):
        vn_x.append(px_); vn_y.append(py_); vn_t.append(str(c))
    for (px_, py_), t in zip(v["set_pos"], venn_sets):
        vs_x.append(px_); vs_y.append(py_); vs_t.append(t)
    vt_x.append(v["title_pos"][0]); vt_y.append(v["title_pos"][1]); vt_t.append(v["title"])
fig.add_trace(ov(x=vn_x, y=vn_y, text=vn_t, mode="text", textfont=dict(family=SERIF, size=30, color="#1A1A1A")))
fig.add_trace(ov(x=vs_x, y=vs_y, text=vs_t, mode="text", textfont=dict(family=SERIF, size=29, color="#1A1A1A")))
fig.add_trace(ov(x=vt_x, y=vt_y, text=vt_t, mode="text", textposition="middle right",
                 textfont=dict(family=SERIF, size=28, color="#1A1A1A", weight="bold")))

# ---------- Panel D : network ----------
male_c = (870.3, 1693.5)
female_c = (1231.8, 1693.5)
hub_r = 60
mid_x = 1051.4
shared_y = [1361.2, 1436.5, 1521.2, 1606.8, 1693.5, 1781.8, 1864.9, 1949.5, 2024.3]
shared_rx = [181, 166, 153, 137, 181, 137, 155, 166, 181]
shared_lab_y = [1332.7, 1404.3, 1491.1, 1576.7, 1664.0, 1757.4, 1896.0, 1981.7, 2054.4]
shared_arrow_x = [(898.7, 1197.1), (947.3, 1151.0), (873.4, 1221.7), (951.7, 1149.8), (997.7, 1103.7),
                  (1000.9, 1103.7), (958.6, 1144.7), (958.6, 1144.7), (977.5, 1125.8)]
shared_arrow_c = [1334, 1402, 1489, 1575.5, 1663, 1757, 1893.5, 1979, 2053]
left_nodes = [(675.5, 1510.8), (675.5, 1609.4), (675.5, 1789.6), (675.5, 1882.0)]
left_end_dy = [-17, -12, 12, 17]
left_lab = [(677.9, 1480.7), (677.9, 1575.7), (678.0, 1753.2), (676.6, 1846.7)]
left_arrow = [(711.3, 1482), (711.3, 1574), (770.6, 1749), (710.7, 1845.5)]
right_nodes = [(1426.8, 1510.8), (1444.4, 1633.8), (1443.2, 1750.6), (1428.6, 1876.8)]
right_end_y = [1678, 1691, 1705, 1717]
right_lab = [(1460.2, 1473.9), (1512.6, 1600.1), (1496.8, 1781.8), (1431.8, 1911.6)]
right_arrow = [(1576.9, 1476.8), (1588.3, 1596.2), (1599.0, 1784.4), (1592.7, 1914.2)]

cx_, cy_ = [], []
t = np.linspace(np.pi, 0, 120)
for ny, rx in zip(shared_y, shared_rx):
    ry = male_c[1] - ny
    cx_ += list(mid_x + rx * np.cos(t)) + [None]
    cy_ += list(male_c[1] - ry * np.sin(t)) + [None]
tq = np.linspace(0, np.pi / 2, 80)
ex_l = male_c[0] - hub_r + 1
for (nx, ny), dy in zip(left_nodes, left_end_dy):
    ey = male_c[1] + dy
    cx_ += list(nx + (ex_l - nx) * np.sin(tq)) + [None]
    cy_ += list(ey + (ny - ey) * np.cos(tq)) + [None]
ex_r = female_c[0] + hub_r - 1
for (nx, ny), ey in zip(right_nodes, right_end_y):
    cx_ += list(ex_r + (nx - ex_r) * np.cos(tq)) + [None]
    cy_ += list(ny + (ey - ny) * np.sin(tq)) + [None]
fig.add_trace(ov(x=cx_, y=cy_, mode="lines", line=dict(color="#111111", width=2.6, dash="11px,6px")))

tc = np.linspace(0, 2 * np.pi, 200)
for c in (male_c, female_c):
    fig.add_trace(ov(x=c[0] + hub_r * np.cos(tc), y=c[1] + hub_r * np.sin(tc), mode="lines", fill="toself",
                     fillgradient=dict(type="horizontal", colorscale=[[0, "#9BCAEA"], [1, "#D6EBF7"]]),
                     line=dict(color="#222222", width=1.3)))
fig.add_trace(ov(x=[mid_x] * len(shared_y), y=shared_y, mode="markers",
                 marker=dict(size=34, color="#F7EC17", line=dict(color="#444444", width=1))))
fig.add_trace(ov(x=[p[0] for p in left_nodes], y=[p[1] for p in left_nodes], mode="markers",
                 marker=dict(size=35, color="#2C4DA3", line=dict(color="#1B2F6B", width=1))))
fig.add_trace(ov(x=[p[0] for p in right_nodes], y=[p[1] for p in right_nodes], mode="markers",
                 marker=dict(size=35, color="#E4155F", line=dict(color="#8C0C3A", width=1))))

dt_x = [mid_x] * len(net_shared) + [p[0] for p in left_lab] + [p[0] for p in right_lab]
dt_y = shared_lab_y + [p[1] for p in left_lab] + [p[1] for p in right_lab]
dt_t = net_shared + net_male_only + net_female_only
fig.add_trace(ov(x=dt_x, y=dt_y, text=dt_t, mode="text", textfont=dict(family=SERIF, size=24, color="#111111")))
fig.add_trace(ov(x=[male_c[0], female_c[0]], y=[male_c[1], female_c[1]], text=["Male", "Female"], mode="text",
                 textfont=dict(family=SERIF, size=29, color="#111111")))

def arrow(x, yc, direction, length=38):
    if direction == "up":
        head, tail = yc - length / 2, yc + length / 2
    else:
        head, tail = yc + length / 2, yc - length / 2
    annotations.append(dict(x=x, y=head, ax=x, ay=tail, xref="x7", yref="y7", axref="x7", ayref="y7",
                            showarrow=True, arrowhead=2, arrowsize=1, arrowwidth=1.3, arrowcolor="#111111",
                            text="", standoff=0, startstandoff=0))

for (x1, x2), yc, d in zip(shared_arrow_x, shared_arrow_c, net_shared_dir):
    arrow(x1, yc, d)
    arrow(x2, yc, d)
for (x, yc), d in zip(left_arrow, net_male_dir):
    arrow(x, yc, d)
for (x, yc), d in zip(right_arrow, net_female_dir):
    arrow(x, yc, d)

# panel letters
fig.add_trace(ov(x=[25, 25, 25, 663], y=[28, 641, 1291, 1292], text=["A", "B", "C", "D"], mode="text",
                 textfont=dict(family=SANS, size=26, color="#000000", weight="bold")))

layout["annotations"] = annotations
layout["shapes"] = shapes
fig.update_layout(**layout)
fig.write_html("out.html")
